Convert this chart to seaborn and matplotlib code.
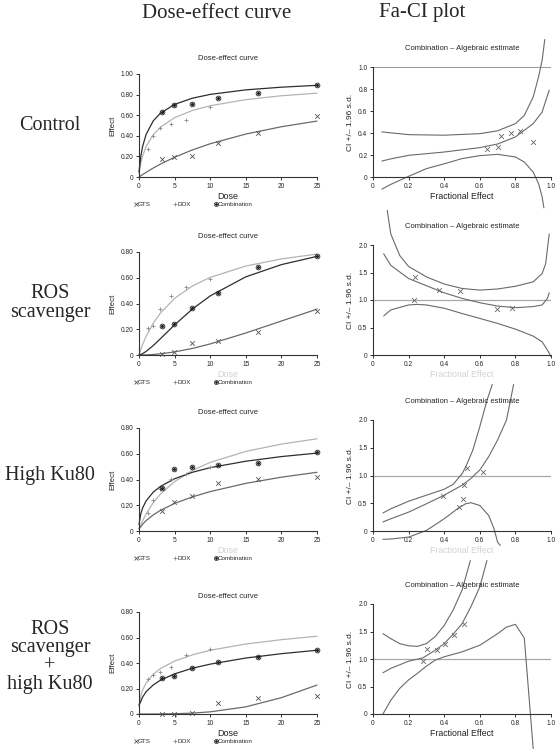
import matplotlib
matplotlib.use("Agg")
import matplotlib.pyplot as plt
import seaborn as sns
from matplotlib.lines import Line2D

sns.set_style("ticks")
plt.rcParams["font.family"] = ["Liberation Sans", "DejaVu Sans"]

W, H = 560, 749

# doses (same ratio series in every experiment)
gts_dose = [3.29, 4.94, 7.41, 11.11, 16.67, 25]
dox_dose = [1.32, 1.98, 2.96, 4.44, 6.67, 10]
combo_dose = [3.29, 4.94, 7.41, 11.11, 16.67, 25]
fit_dose = [0, 0.25, 0.5, 1, 2, 3, 5, 7.5, 10, 15, 20, 25]

row_labels = ["Control", "ROS\nscavenger", "High Ku80", "ROS\nscavenger\n+\nhigh Ku80"]
legend_labels = ["GTS", "DOX", "Combination"]

# --- dose-effect: measured points
ctrl_gts = [0.173, 0.19, 0.20, 0.33, 0.427, 0.596]
ctrl_dox = [0.27, 0.40, 0.475, 0.51, 0.554, 0.684]
ctrl_combo = [0.635, 0.697, 0.713, 0.765, 0.82, 0.89]
ros_gts = [0.008, 0.023, 0.091, 0.109, 0.177, 0.345]
ros_dox = [0.208, 0.223, 0.356, 0.46, 0.527, 0.592]
ros_combo = [0.226, 0.239, 0.366, 0.48, 0.683, 0.771]
ku_gts = [0.154, 0.227, 0.274, 0.37, 0.404, 0.417]
ku_dox = [0.141, 0.24, 0.328, 0.401, 0.44, 0.50]
ku_combo = [0.331, 0.479, 0.498, 0.511, 0.529, 0.615]
both_gts = [0.0, 0.0, 0.005, 0.089, 0.122, 0.143]
both_dox = [0.274, 0.305, 0.331, 0.37, 0.459, 0.508]
both_combo = [0.279, 0.30, 0.357, 0.409, 0.448, 0.50]

# --- dose-effect: fitted curves (read at fit_dose)
ctrl_gts_fit = [0, 0.012, 0.023, 0.045, 0.087, 0.125, 0.192, 0.263, 0.323, 0.417, 0.488, 0.543]
ctrl_dox_fit = [0.03, 0.133, 0.202, 0.296, 0.41, 0.483, 0.576, 0.646, 0.692, 0.751, 0.789, 0.814]
ctrl_combo_fit = [0.05, 0.198, 0.295, 0.414, 0.545, 0.619, 0.705, 0.765, 0.802, 0.846, 0.872, 0.89]
ros_gts_fit = [0, 0, 0, 0.001, 0.004, 0.009, 0.024, 0.051, 0.086, 0.171, 0.264, 0.356]
ros_dox_fit = [0, 0.043, 0.081, 0.145, 0.247, 0.325, 0.44, 0.536, 0.603, 0.691, 0.746, 0.784]
ros_combo_fit = [0, 0.004, 0.01, 0.028, 0.073, 0.126, 0.234, 0.357, 0.459, 0.607, 0.702, 0.766]
ku_gts_fit = [0.02, 0.032, 0.052, 0.081, 0.125, 0.16, 0.214, 0.265, 0.306, 0.37, 0.418, 0.456]
ku_dox_fit = [0.01, 0.045, 0.078, 0.134, 0.22, 0.286, 0.384, 0.47, 0.533, 0.618, 0.675, 0.716]
ku_combo_fit = [0.05, 0.133, 0.178, 0.234, 0.302, 0.346, 0.406, 0.456, 0.492, 0.542, 0.578, 0.605]
both_gts_fit = [0, 0, 0, 0, 0, 0.0005, 0.002, 0.007, 0.017, 0.056, 0.128, 0.227]
both_dox_fit = [0.06, 0.141, 0.187, 0.244, 0.312, 0.356, 0.415, 0.464, 0.50, 0.549, 0.583, 0.61]
both_combo_fit = [0.07, 0.098, 0.132, 0.175, 0.228, 0.265, 0.315, 0.359, 0.391, 0.439, 0.473, 0.50]

# --- Fa-CI: points
ctrl_fa = [0.64, 0.702, 0.719, 0.775, 0.828, 0.897]
ctrl_ci = [0.258, 0.27, 0.376, 0.40, 0.415, 0.315]
ros_fa = [0.228, 0.238, 0.369, 0.487, 0.697, 0.781]
ros_ci = [1.0, 1.42, 1.19, 1.16, 0.83, 0.85]
ku_fa = [0.393, 0.481, 0.506, 0.509, 0.528, 0.616]
ku_ci = [0.627, 0.434, 0.584, 0.825, 1.14, 1.07]
both_fa = [0.279, 0.303, 0.36, 0.406, 0.457, 0.509]
both_ci = [0.97, 1.19, 1.17, 1.27, 1.43, 1.63]

# --- Fa-CI: estimate and +/- 1.96 s.d. curves
ctrl_mid_fa = [0.05, 0.1, 0.2, 0.4, 0.6, 0.7, 0.8, 0.9, 0.95, 0.99]
ctrl_mid_ci = [0.145, 0.165, 0.197, 0.227, 0.267, 0.30, 0.364, 0.485, 0.59, 0.79]
ctrl_up_fa = [0.05, 0.2, 0.4, 0.6, 0.7, 0.8, 0.85, 0.9, 0.93, 0.95, 0.965]
ctrl_up_ci = [0.41, 0.385, 0.38, 0.394, 0.42, 0.485, 0.56, 0.727, 0.91, 1.06, 1.25]
ctrl_lo_fa = [0.05, 0.1, 0.2, 0.3, 0.4, 0.5, 0.6, 0.7, 0.8, 0.85, 0.9, 0.93, 0.95, 0.96]
ctrl_lo_ci = [-0.11, -0.067, 0.006, 0.076, 0.12, 0.167, 0.194, 0.206, 0.182, 0.136, 0.045, -0.06, -0.18, -0.28]

ros_up_fa = [0.08, 0.1, 0.15, 0.2, 0.3, 0.4, 0.5, 0.6, 0.7, 0.8, 0.9, 0.95, 0.97, 0.99]
ros_up_ci = [2.63, 2.2, 1.81, 1.61, 1.42, 1.29, 1.21, 1.18, 1.20, 1.25, 1.33, 1.48, 1.66, 2.2]
ros_mid_fa = [0.06, 0.1, 0.2, 0.3, 0.4, 0.5, 0.6, 0.7, 0.8, 0.9, 0.95, 0.98, 0.99]
ros_mid_ci = [1.84, 1.63, 1.39, 1.26, 1.13, 1.03, 0.95, 0.89, 0.86, 0.88, 0.91, 1.03, 1.13]
ros_lo_fa = [0.06, 0.1, 0.2, 0.25, 0.3, 0.4, 0.5, 0.6, 0.7, 0.8, 0.9, 0.95, 0.98, 1.0]
ros_lo_ci = [0.71, 0.82, 0.91, 0.92, 0.91, 0.85, 0.755, 0.665, 0.574, 0.47, 0.344, 0.24, 0.09, -0.03]

ku_up_fa = [0.056, 0.1, 0.2, 0.3, 0.4, 0.45, 0.5, 0.52, 0.56, 0.6, 0.64, 0.67]
ku_up_ci = [0.325, 0.40, 0.536, 0.645, 0.753, 0.84, 1.03, 1.15, 1.45, 1.88, 2.35, 2.64]
ku_mid_fa = [0.056, 0.1, 0.2, 0.3, 0.4, 0.5, 0.55, 0.6, 0.65, 0.7, 0.75, 0.79]
ku_mid_ci = [0.163, 0.22, 0.34, 0.49, 0.645, 0.825, 0.946, 1.10, 1.34, 1.64, 2.0, 2.64]
ku_lo_fa = [0.056, 0.1, 0.2, 0.3, 0.4, 0.48, 0.52, 0.55, 0.6, 0.65, 0.68, 0.7, 0.715]
ku_lo_ci = [-0.15, -0.145, -0.11, 0.01, 0.22, 0.415, 0.49, 0.51, 0.46, 0.28, 0.04, -0.2, -0.26]

both_up_fa = [0.056, 0.1, 0.15, 0.2, 0.25, 0.3, 0.35, 0.4, 0.45, 0.5, 0.547]
both_up_ci = [1.46, 1.37, 1.28, 1.24, 1.23, 1.28, 1.41, 1.61, 1.89, 2.25, 2.79]
both_mid_fa = [0.056, 0.1, 0.2, 0.28, 0.35, 0.4, 0.45, 0.5, 0.55, 0.6, 0.64]
both_mid_ci = [0.75, 0.83, 0.96, 1.02, 1.16, 1.28, 1.45, 1.64, 1.95, 2.31, 2.79]
both_lo_fa = [0.056, 0.1, 0.15, 0.2, 0.25, 0.3, 0.35, 0.4, 0.5, 0.6, 0.7, 0.75, 0.8, 0.85, 0.9]
both_lo_ci = [0, 0.25, 0.465, 0.62, 0.74, 0.87, 0.98, 1.04, 1.13, 1.25, 1.46, 1.58, 1.63, 1.38, -0.63]

# tick labels
dose_ticks = [0, 5, 10, 15, 20, 25]
eff_ticks_1 = ["0", "0.20", "0.40", "0.60", "0.80", "1.00"]
eff_ticks_08 = ["0", "0.20", "0.40", "0.60", "0.80"]
fa_ticks = ["0", "0.2", "0.4", "0.6", "0.8", "1.0"]
ci_ticks_1 = ["0", "0.2", "0.4", "0.6", "0.8", "1.0"]
ci_ticks_2 = ["0", "0.5", "1.0", "1.5", "2.0"]

GTS_C, DOX_C, COMBO_C = "#6a6a6a", "#b4b4b4", "#2e2e2e"
CI_C = "#6a6a6a"

rows = [
    dict(pts=(ctrl_gts, ctrl_dox, ctrl_combo), fit=(ctrl_gts_fit, ctrl_dox_fit, ctrl_combo_fit),
         eff_ticks=eff_ticks_1, fa=ctrl_fa, ci=ctrl_ci, ci_ticks=ci_ticks_1,
         curves=[(ctrl_up_fa, ctrl_up_ci), (ctrl_mid_fa, ctrl_mid_ci), (ctrl_lo_fa, ctrl_lo_ci)],
         left=(74, 177), right=(67, 177), label_y=125, xlab_c="#222222"),
    dict(pts=(ros_gts, ros_dox, ros_combo), fit=(ros_gts_fit, ros_dox_fit, ros_combo_fit),
         eff_ticks=eff_ticks_08, fa=ros_fa, ci=ros_ci, ci_ticks=ci_ticks_2,
         curves=[(ros_up_fa, ros_up_ci), (ros_mid_fa, ros_mid_ci), (ros_lo_fa, ros_lo_ci)],
         left=(252, 355), right=(245, 355), label_y=303, xlab_c="#d2d2d2"),
    dict(pts=(ku_gts, ku_dox, ku_combo), fit=(ku_gts_fit, ku_dox_fit, ku_combo_fit),
         eff_ticks=eff_ticks_08, fa=ku_fa, ci=ku_ci, ci_ticks=ci_ticks_2,
         curves=[(ku_up_fa, ku_up_ci), (ku_mid_fa, ku_mid_ci), (ku_lo_fa, ku_lo_ci)],
         left=(428, 531), right=(420, 531), label_y=475, xlab_c="#d2d2d2"),
    dict(pts=(both_gts, both_dox, both_combo), fit=(both_gts_fit, both_dox_fit, both_combo_fit),
         eff_ticks=eff_ticks_08, fa=both_fa, ci=both_ci, ci_ticks=ci_ticks_2,
         curves=[(both_up_fa, both_up_ci), (both_mid_fa, both_mid_ci), (both_lo_fa, both_lo_ci)],
         left=(612, 714), right=(604, 714), label_y=657, xlab_c="#222222"),
]


def rect(x0, x1, top, bot):
    return [x0 / W, 1 - bot / H, (x1 - x0) / W, (bot - top) / H]


def style_axes(ax):
    sns.despine(ax=ax)
    for s in ("left", "bottom"):
        ax.spines[s].set_linewidth(0.8)
        ax.spines[s].set_color("#333333")
    ax.tick_params(length=2.5, width=0.7, pad=1.5, labelsize=4.8, color="#333333")


fig = plt.figure(figsize=(W / 100, H / 100), dpi=100)

fig.text(217 / W, 1 - 13 / H, "Dose-effect curve", ha="center", va="center",
         fontsize=15, family=["Liberation Serif", "DejaVu Serif"])
fig.text(422 / W, 1 - 13 / H, "Fa-CI plot", ha="center", va="center",
         fontsize=15, family=["Liberation Serif", "DejaVu Serif"])

for i, row in enumerate(rows):
    fig.text(50 / W, 1 - row["label_y"] / H, row_labels[i], ha="center", va="center",
             fontsize=14.5, linespacing=0.95, family=["Liberation Serif", "DejaVu Serif"])

    # ---- dose-effect panel
    ax = fig.add_axes(rect(139, 317, *row["left"]))
    gts, dox, combo = row["pts"]
    gts_fit, dox_fit, combo_fit = row["fit"]
    sns.lineplot(x=fit_dose, y=dox_fit, ax=ax, color=DOX_C, linewidth=0.9, sort=False,
                 estimator=None, clip_on=False)
    sns.lineplot(x=fit_dose, y=gts_fit, ax=ax, color=GTS_C, linewidth=0.9, sort=False,
                 estimator=None, clip_on=False)
    sns.lineplot(x=fit_dose, y=combo_fit, ax=ax, color=COMBO_C, linewidth=0.9, sort=False,
                 estimator=None, clip_on=False)
    sns.scatterplot(x=gts_dose, y=gts, ax=ax, marker="x", s=11, color="#555555",
                    linewidth=0.6, clip_on=False, legend=False, zorder=4)
    sns.scatterplot(x=dox_dose, y=dox, ax=ax, marker="+", s=12, color="#8a8a8a",
                    linewidth=0.6, clip_on=False, legend=False, zorder=4)
    ax.plot(combo_dose, combo, ls="none", marker="o", ms=3.4, mfc="none", mec="#222222",
            mew=0.6, clip_on=False, zorder=5)
    ax.plot(combo_dose, combo, ls="none", marker="o", ms=1.2, color="#222222",
            clip_on=False, zorder=5)
    ymax = 1.0 if len(row["eff_ticks"]) == 6 else 0.8
    ax.set_xlim(0, 25)
    ax.set_ylim(0, ymax)
    ax.set_xticks(dose_ticks)
    ax.set_xticklabels([str(t) for t in dose_ticks])
    ax.set_yticks([k * 0.2 for k in range(len(row["eff_ticks"]))])
    ax.set_yticklabels(row["eff_ticks"])
    style_axes(ax)
    ax.set_title("Dose-effect curve", fontsize=5.5, pad=10)
    ax.set_xlabel("Dose", fontsize=6.5, labelpad=1.5, color=row["xlab_c"])
    ax.set_ylabel("Effect", fontsize=5.8, labelpad=3)
    h_gts = Line2D([], [], ls="none", marker="x", color="#555555", ms=3, mew=0.6)
    h_dox = Line2D([], [], ls="none", marker="+", color="#8a8a8a", ms=3, mew=0.6)
    h_c1 = Line2D([], [], ls="none", marker="o", ms=3, mfc="none", mec="#222222", mew=0.5)
    h_c2 = Line2D([], [], ls="none", marker="o", ms=1, color="#222222")
    ax.legend([h_gts, h_dox, (h_c1, h_c2)], legend_labels, loc="upper left",
              bbox_to_anchor=(-0.03, -0.24), ncol=3, frameon=False, fontsize=4.5,
              handlelength=0.6, handletextpad=0.1, columnspacing=3.6,
              borderpad=0, borderaxespad=0)

    # ---- Fa-CI panel
    ax = fig.add_axes(rect(373, 551, *row["right"]))
    ax.axhline(1.0, color="#8a8a8a" if i == 0 else "#a8a8a8",
               linewidth=1.2 if i == 0 else 0.9, zorder=1)
    for cfa, cci in row["curves"]:
        sns.lineplot(x=cfa, y=cci, ax=ax, color=CI_C, linewidth=0.8, sort=False,
                     estimator=None, clip_on=False)
    sns.scatterplot(x=row["fa"], y=row["ci"], ax=ax, marker="x", s=12, color="#666666",
                    linewidth=0.6, clip_on=False, legend=False, zorder=4)
    ax.set_xlim(0, 1)
    step = 0.2 if i == 0 else 0.5
    ax.set_ylim(0, step * (len(row["ci_ticks"]) - 1))
    ax.set_xticks([k * 0.2 for k in range(6)])
    ax.set_xticklabels(fa_ticks)
    ax.set_yticks([k * step for k in range(len(row["ci_ticks"]))])
    ax.set_yticklabels(row["ci_ticks"])
    style_axes(ax)
    ax.set_title("Combination \u2013 Algebraic estimate", fontsize=5.5, pad=12)
    ax.set_xlabel("Fractional Effect", fontsize=6.3, labelpad=1.5, color=row["xlab_c"])
    ax.set_ylabel("CI +/\u2013 1.96 s.d.", fontsize=6, labelpad=3)

fig.savefig("out.png", dpi=100)
